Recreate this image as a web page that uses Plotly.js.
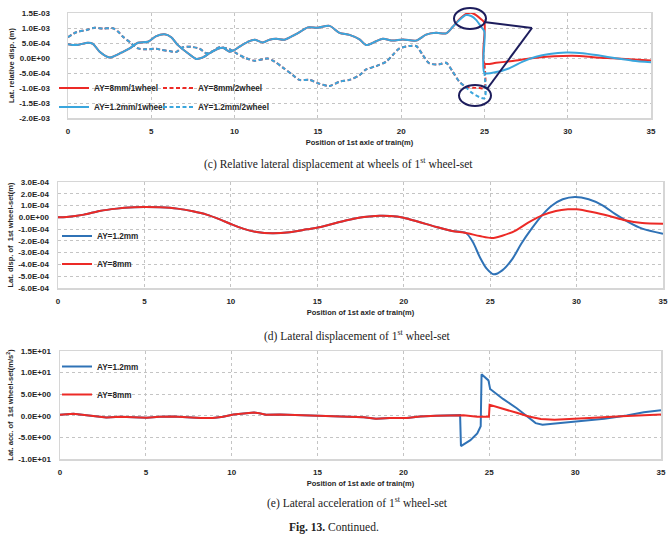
<!DOCTYPE html>
<html><head><meta charset="utf-8">
<script src="https://cdn.plot.ly/plotly-3.0.1.min.js"></script>
<style>html,body{margin:0;padding:0;background:#fff}</style>
</head><body><div id="chart" style="width:671px;height:536px"></div>
<script>
// ---------- (c) Relative lateral displacement at wheels (values in m) ----------
const cBlue1X = [0,0.5,1.2,1.5,1.9,2.5,2.8,3.2,3.7,4.2,4.8,5.3,5.8,6.2,6.6,7.2,7.7,8.1,8.5,9.0,9.3,9.7,10.0,10.3,10.8,11.2,11.7,12.1,12.5,13.0,13.6,14.1,14.4,15.0,15.7,16.3,16.9,17.5,17.9,18.5,18.9,19.5,20.1,20.9,21.5,22.1,22.7,23.1,23.5,23.9,24.2,24.5,24.8,25.0,25.0,25.7,26.5,27.3,28.1,28.9,29.9,30.9,31.9,32.9,33.9,35.0];
const cBlue1Y = [4.6,4.3,5.1,4.7,2.1,0.2,0.7,1.8,3.2,5.1,5.4,7.3,7.9,6.9,4.3,1.6,-0.3,0.2,1.6,3.1,3.4,2.1,2.7,3.8,5.4,6.1,5.2,6.1,6.4,6.1,7.7,9.3,10.2,10.1,10.7,8.4,7.7,6.2,4.3,5.6,6.4,5.8,6.2,5.8,7.8,8.4,8.2,10.4,12.7,14.3,14.0,12.7,10.4,8.8,-4.9,-4.7,-3.4,-1.2,0.4,1.3,1.8,1.6,0.8,-0.1,-0.9,-1.4].map(v=>v*1e-4);
const cRed1X = [0,0.5,1.2,1.5,1.9,2.5,2.8,3.2,3.7,4.2,4.8,5.3,5.8,6.2,6.6,7.2,7.7,8.1,8.5,9.0,9.3,9.7,10.0,10.3,10.8,11.2,11.7,12.1,12.5,13.0,13.6,14.1,14.4,15.0,15.7,16.3,16.9,17.5,17.9,18.5,18.9,19.5,20.1,20.9,21.5,22.1,22.7,23.1,23.5,23.9,24.2,24.5,24.8,25.0,25.0,25.7,26.7,27.7,28.7,29.7,30.7,31.7,32.7,33.7,35.0];
const cRed1Y = [4.6,4.3,5.1,4.7,2.1,0.2,0.7,1.8,3.2,5.1,5.4,7.3,7.9,6.9,4.3,1.6,-0.3,0.2,1.6,3.1,3.4,2.1,2.7,3.8,5.4,6.1,5.2,6.1,6.4,6.1,7.7,9.3,10.2,10.1,10.7,8.4,7.7,6.2,4.3,5.6,6.4,5.8,6.2,5.8,7.8,8.4,8.2,10.4,12.9,14.7,15.1,14.3,12.9,11.8,-1.8,-1.6,-1.0,-0.2,0.4,0.7,0.7,0.2,-0.1,-0.4,-0.8].map(v=>v*1e-4);
const cBlue2X = [0,0.5,1.1,1.6,2.1,2.7,3.0,3.3,3.8,4.2,4.7,5.3,5.6,6.1,6.5,6.9,7.4,7.9,8.3,8.7,9.1,9.7,10.1,10.7,11.2,11.7,12.0,12.4,12.9,13.5,13.9,14.5,15.0,15.7,16.3,16.9,17.5,17.9,18.5,19.1,19.5,19.9,20.5,20.9,21.3,21.7,22.3,22.7,23.1,23.5,23.9,24.3,25.0,25.0];
const cBlue2Y = [6.9,8.6,9.3,10.1,9.8,9.9,8.8,7.1,4.9,3.2,2.9,3.1,2.7,2.3,2.0,3.6,3.7,3.1,1.6,2.3,3.6,2.9,1.6,-0.1,-0.9,-0.4,-0.2,-1.2,-3.2,-5.7,-7.3,-7.3,-8.4,-9.3,-7.9,-7.3,-5.7,-3.8,-2.7,-1.2,1.0,3.2,4.0,4.0,1.0,-1.8,-2.1,-1.6,-4.6,-7.9,-9.8,-11.8,-13.4,-4.9].map(v=>v*1e-4);
const cRed2X = [0,0.5,1.1,1.6,2.1,2.7,3.0,3.3,3.8,4.2,4.7,5.3,5.6,6.1,6.5,6.9,7.4,7.9,8.3,8.7,9.1,9.7,10.1,10.7,11.2,11.7,12.0,12.4,12.9,13.5,13.9,14.5,15.0,15.7,16.3,16.9,17.5,17.9,18.5,19.1,19.5,19.9,20.5,20.9,21.3,21.7,22.3,22.7,23.1,23.5,23.9,24.3,24.7,25.0,25.0];
const cRed2Y = [6.9,8.6,9.3,10.1,9.8,9.9,8.8,7.1,4.9,3.2,2.9,3.1,2.7,2.3,2.0,3.6,3.7,3.1,1.6,2.3,3.6,2.9,1.6,-0.1,-0.9,-0.4,-0.2,-1.2,-3.2,-5.7,-7.3,-7.3,-8.4,-9.3,-7.9,-7.3,-5.7,-3.8,-2.7,-1.2,1.0,3.2,4.0,4.0,1.0,-1.8,-2.1,-1.6,-4.6,-7.9,-9.6,-9.9,-10.0,-10.1,-1.8].map(v=>v*1e-4);
const cTickVals = [1.5e-3,1.0e-3,5e-4,0,-5e-4,-1.0e-3,-1.5e-3,-2.0e-3];
const cTickText = ['1.5E-03','1.0E-03','5.0E-04','0.0E+00','-5.0E-04','-1.0E-03','-1.5E-03','-2.0E-03'];

// ---------- (d) Lateral displacement of 1st wheel-set (m) ----------
const dRedX = [0,0.5,1.5,2.4,3.4,4.4,5.0,5.9,6.9,7.8,8.6,9.4,10.0,10.7,11.5,12.4,13.4,14.4,15.2,16.7,17.7,18.6,19.6,20.0,20.9,21.9,22.8,23.6,24.4,25.1,25.7,26.5,27.2,28.0,28.8,29.5,30.0,30.9,31.9,32.8,33.8,35.0];
const dRedY = [0,0.03,0.23,0.54,0.74,0.85,0.88,0.85,0.74,0.51,0.23,-0.2,-0.57,-0.96,-1.25,-1.36,-1.27,-1.02,-0.82,-0.25,0.03,0.14,0.08,-0.03,-0.4,-0.82,-1.16,-1.33,-1.59,-1.76,-1.56,-1.1,-0.45,0.17,0.54,0.68,0.68,0.45,0.11,-0.25,-0.48,-0.54].map(v=>v*1e-4);
const dBlueX = [0,0.5,1.5,2.4,3.4,4.4,5.0,5.9,6.9,7.8,8.6,9.4,10.0,10.7,11.5,12.4,13.4,14.4,15.2,16.7,17.7,18.6,19.6,20.0,20.9,21.9,22.8,23.6,24.0,24.4,24.8,25.2,25.7,26.3,26.8,27.4,28.0,28.6,29.2,29.9,30.7,31.5,32.2,33.0,33.8,35.0];
const dBlueY = [0,0.03,0.23,0.54,0.74,0.85,0.88,0.85,0.74,0.51,0.23,-0.2,-0.57,-0.96,-1.25,-1.36,-1.27,-1.02,-0.82,-0.25,0.03,0.14,0.08,-0.03,-0.4,-0.82,-1.16,-1.33,-2.1,-3.37,-4.36,-4.84,-4.5,-3.5,-2.24,-0.96,0.17,1.02,1.53,1.73,1.53,1.02,0.31,-0.4,-0.96,-1.39].map(v=>v*1e-4);
const dTickVals = [3e-4,2e-4,1e-4,0,-1e-4,-2e-4,-3e-4,-4e-4,-5e-4,-6e-4];
const dTickText = ['3.0E-04','2.0E-04','1.0E-04','0.0E+00','-1.0E-04','-2.0E-04','-3.0E-04','-4.0E-04','-5.0E-04','-6.0E-04'];

// ---------- (e) Lateral acceleration of 1st wheel-set (m/s^2) ----------
const eRedX = [0,0.78,1.16,1.94,2.7,3.5,4.3,5.05,5.8,6.6,7.4,8.2,8.9,9.5,10.1,10.9,11.3,11.6,12.0,12.8,13.6,14.4,15.1,15.9,16.9,17.7,18.4,19.2,20.2,20.96,21.9,22.9,23.5,24.3,24.98,25.02,25.8,26.6,27.3,28.0,28.8,30.0,31.1,32.7,33.8,35.0];
const eRedY = [0.23,0.46,0.31,-0.08,-0.38,-0.23,-0.31,-0.46,-0.23,-0.15,-0.31,-0.53,-0.53,-0.23,0.31,0.61,0.76,0.61,0.23,0.31,0.23,0.15,0,-0.15,-0.15,-0.31,-0.69,-0.53,-0.53,-0.15,0,0.15,0.15,-0.23,-0.23,2.52,1.68,0.69,-0.15,-0.76,-0.92,-0.76,-0.46,-0.08,0.15,0.3];
const eBlueX = [0,0.78,1.16,1.94,2.7,3.5,4.3,5.05,5.8,6.6,7.4,8.2,8.9,9.5,10.1,10.9,11.3,11.6,12.0,12.8,13.6,14.4,15.1,15.9,16.9,17.7,18.4,19.2,20.2,20.96,21.9,22.9,23.3,23.35,23.9,24.3,24.5,24.55,24.95,25.05,25.8,26.6,27.2,27.7,28.1,29.2,30.4,31.7,33.0,34.0,35.0];
const eBlueY = [0.23,0.46,0.31,-0.08,-0.38,-0.23,-0.31,-0.46,-0.23,-0.15,-0.31,-0.53,-0.53,-0.23,0.31,0.61,0.76,0.61,0.23,0.31,0.23,0.15,0,-0.15,-0.15,-0.31,-0.69,-0.53,-0.53,-0.15,0,0.15,0.15,-7.0,-5.65,-4.1,-2.4,9.6,8.2,6.2,3.9,1.76,-0.15,-1.7,-2.06,-1.68,-1.22,-0.69,0.08,0.84,1.3];
const eTickVals = [15,10,5,0,-5,-10];
const eTickText = ['1.5E+01','1.0E+01','5.0E+00','0.0E+00','-5.0E+00','-1.0E+01'];

const xTickVals = [0,5,10,15,20,25,30,35];

// ---------- styling ----------
const W = 671, H = 536;
const px = v => v / W, py = v => 1 - v / H;
const RED = '#ec2a26', LBLUE = '#3aa6dd', DBLUE = '#2f72b6', NAVY = '#1d1d5c';
const SANS = 'Liberation Sans, Arial, sans-serif';
const SERIF = 'Liberation Serif, Times New Roman, serif';
const tickFont = {family: SANS, size: 8, color: '#262626', weight: 'bold'};
const titleFont = {family: SANS, size: 7.5, color: '#262626', weight: 'bold'};
const legFont = {family: SANS, size: 8.2, color: '#262626', weight: 'bold'};
const DASH = '4px,2.5px';

function xax(dom, anchor) {
  return {domain: dom, anchor: anchor, range: [0, 35], tickvals: xTickVals, ticktext: xTickVals.map(String),
    ticks: 'outside', ticklen: 5, tickcolor: 'rgba(0,0,0,0)', tickfont: tickFont,
    showgrid: true, gridcolor: '#c4c4c4', griddash: 'dot', gridwidth: 1, zeroline: false,
    showline: true, mirror: true, linecolor: '#d6d6d6', linewidth: 1.5,
    title: {text: 'Position of 1st axle of train(m)', font: titleFont, standoff: 4}};
}
function yax(dom, anchor, range, tv, tt, title, tl) {
  return {domain: dom, anchor: anchor, range: range, tickvals: tv, ticktext: tt,
    ticks: 'outside', ticklen: tl, tickcolor: 'rgba(0,0,0,0)', tickfont: tickFont,
    showgrid: true, gridcolor: '#c4c4c4', griddash: 'dot', gridwidth: 1, zeroline: false,
    showline: true, mirror: true, linecolor: '#d6d6d6', linewidth: 1.5,
    title: {text: title, font: titleFont, standoff: 3}};
}
function leg(x, y) {
  return {x: px(x), y: py(y), xanchor: 'left', yanchor: 'middle', bgcolor: 'rgba(0,0,0,0)',
    font: legFont, itemwidth: 30, borderwidth: 0};
}
function vleg(x, y) {
  return {x: px(x), y: py(y), xanchor: 'left', yanchor: 'middle', orientation: 'v', bgcolor: 'rgba(0,0,0,0)',
    font: legFont, itemwidth: 30, borderwidth: 0, traceorder: 'grouped', tracegroupgap: 9};
}
const SPL = {shape: 'spline', smoothing: 0.8};

const traces = [
  {x: cRed1X, y: cRed1Y, name: 'AY=8mm/1wheel', mode: 'lines', line: Object.assign({color: RED, width: 2}, SPL), xaxis: 'x', yaxis: 'y', legend: 'legend'},
  {x: cRed2X, y: cRed2Y, name: 'AY=8mm/2wheel', mode: 'lines', line: Object.assign({color: RED, width: 2, dash: DASH}, SPL), xaxis: 'x', yaxis: 'y', legend: 'legend2'},
  {x: cBlue1X, y: cBlue1Y, name: 'AY=1.2mm/1wheel', mode: 'lines', line: Object.assign({color: LBLUE, width: 2}, SPL), xaxis: 'x', yaxis: 'y', legend: 'legend3'},
  {x: cBlue2X, y: cBlue2Y, name: 'AY=1.2mm/2wheel', mode: 'lines', line: Object.assign({color: LBLUE, width: 2, dash: DASH}, SPL), xaxis: 'x', yaxis: 'y', legend: 'legend4'},
  {x: dBlueX, y: dBlueY, name: 'AY=1.2mm', mode: 'lines', line: Object.assign({color: DBLUE, width: 2}, SPL), xaxis: 'x2', yaxis: 'y2', legend: 'legend5', legendgroup: 'd1'},
  {x: dRedX, y: dRedY, name: 'AY=8mm', mode: 'lines', line: Object.assign({color: RED, width: 2}, SPL), xaxis: 'x2', yaxis: 'y2', legend: 'legend5', legendgroup: 'd2'},
  {x: eBlueX, y: eBlueY, name: 'AY=1.2mm', mode: 'lines', line: {color: DBLUE, width: 2}, xaxis: 'x3', yaxis: 'y3', legend: 'legend6', legendgroup: 'e1'},
  {x: eRedX, y: eRedY, name: 'AY=8mm', mode: 'lines', line: {color: RED, width: 2}, xaxis: 'x3', yaxis: 'y3', legend: 'legend6', legendgroup: 'e2'}
];

const layout = {
  width: W, height: H, margin: {l: 0, r: 0, t: 0, b: 0},
  paper_bgcolor: '#fff', plot_bgcolor: '#fff', showlegend: true,
  xaxis: xax([px(68), px(651)], 'y'),
  yaxis: yax([py(118), py(13)], 'x', [-2e-3, 1.5e-3], cTickVals, cTickText, 'Lat. relative disp. (m)', 15),
  xaxis2: xax([px(58), px(663)], 'y2'),
  yaxis2: yax([py(288), py(182)], 'x2', [-6e-4, 3e-4], dTickVals, dTickText, 'Lat. disp. of  1st wheel-set(m)', 6),
  xaxis3: xax([px(60), px(661)], 'y3'),
  yaxis3: yax([py(459), py(351)], 'x3', [-10, 15], eTickVals, eTickText, 'Lat. acc. of  1st wheel-set(m/s<sup>2</sup>)', 6),
  legend: leg(54, 88), legend2: leg(158, 88), legend3: leg(54, 107), legend4: leg(158, 107),
  legend5: vleg(57, 250), legend6: vleg(57, 380.5),
  shapes: [
    {type: 'circle', xref: 'paper', yref: 'paper', x0: px(454), x1: px(486), y0: py(29), y1: py(8), line: {color: NAVY, width: 2}},
    {type: 'circle', xref: 'paper', yref: 'paper', x0: px(459), x1: px(491), y0: py(106), y1: py(85), line: {color: NAVY, width: 2}},
    {type: 'line', xref: 'paper', yref: 'paper', x0: px(484), y0: py(22), x1: px(532), y1: py(28), line: {color: NAVY, width: 2}},
    {type: 'line', xref: 'paper', yref: 'paper', x0: px(532), y0: py(28), x1: px(487), y1: py(89), line: {color: NAVY, width: 2}}
  ],
  annotations: [
    {text: '(c) Relative lateral displacement at wheels of 1<sup>st</sup> wheel-set', xref: 'paper', yref: 'paper', x: px(338), y: py(163), xanchor: 'center', yanchor: 'middle', showarrow: false, font: {family: SERIF, size: 11.5, color: '#222'}},
    {text: '(d) Lateral displacement of 1<sup>st</sup> wheel-set', xref: 'paper', yref: 'paper', x: px(357), y: py(335), xanchor: 'center', yanchor: 'middle', showarrow: false, font: {family: SERIF, size: 11.5, color: '#222'}},
    {text: '(e) Lateral acceleration of 1<sup>st</sup> wheel-set', xref: 'paper', yref: 'paper', x: px(357), y: py(502), xanchor: 'center', yanchor: 'middle', showarrow: false, font: {family: SERIF, size: 11.5, color: '#222'}},
    {text: '<b>Fig. 13.</b> Continued.', xref: 'paper', yref: 'paper', x: px(334), y: py(527), xanchor: 'center', yanchor: 'middle', showarrow: false, font: {family: SERIF, size: 11.5, color: '#222'}}
  ]
};

Plotly.newPlot('chart', traces, layout, {displayModeBar: false, staticPlot: true});
</script></body></html>
